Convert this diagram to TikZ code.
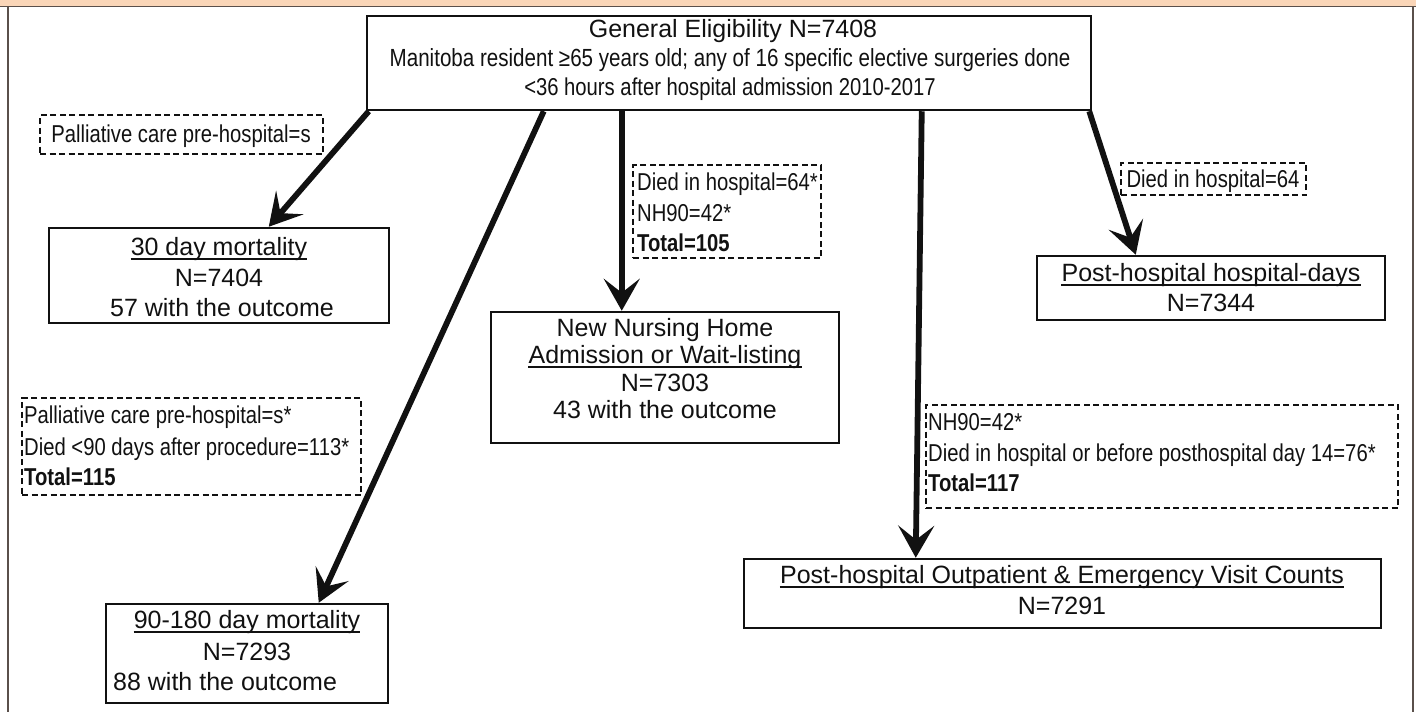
\documentclass[tikz,border=0pt]{standalone}
\usepackage{fontspec}
\setmainfont{Liberation Sans}
\newfontfamily\narrowfont[FakeStretch=0.83]{Liberation Sans}
\usetikzlibrary{arrows.meta,calc}
\definecolor{peach}{RGB}{250,214,184}
\definecolor{framecol}{RGB}{90,80,75}
\definecolor{ink}{RGB}{17,17,17}
\tikzset{
  box/.style={draw=ink, line width=2.5pt, rectangle, inner sep=0pt},
  dbox/.style={draw=ink, line width=1.8pt, dash pattern=on 6pt off 3.5pt, rectangle, inner sep=0pt},
  bt/.style={text=ink, font=\fontsize{25}{29}\selectfont, inner sep=0pt, anchor=base},
  gt/.style={text=ink, font=\narrowfont\fontsize{24.4}{28}\selectfont, inner sep=0pt, anchor=base},
  dt/.style={text=ink, font=\narrowfont\fontsize{24.4}{28}\selectfont, inner sep=0pt, anchor=base west},
  flow/.style={draw=ink, line width=5.8pt, -{Stealth[length=32pt,width=36pt,inset=14pt]}},
  uline/.style={draw=ink, line width=1.4pt},
}
\begin{document}
\begin{tikzpicture}[x=1pt,y=-1pt]
\useasboundingbox (0,0) rectangle (1416,712);
% frame
\fill[peach] (0,0) rectangle (1416,6.5);
\draw[framecol, line width=1.5pt] (0,6.5) -- (1416,6.5);
\draw[framecol, line width=1.5pt] (8,6.5) -- (8,712);
\draw[framecol, line width=1.5pt] (1413,6.5) -- (1413,712);

% main boxes
\node[box, minimum width=724pt, minimum height=94pt] (gen) at (729,63) {};
\node[box, minimum width=340pt, minimum height=95pt] (m30) at (219,275.5) {};
\node[box, minimum width=282pt, minimum height=99pt] (m90) at (247,653.5) {};
\node[box, minimum width=348pt, minimum height=131pt] (nn) at (665,377.5) {};
\node[box, minimum width=348pt, minimum height=64pt] (ph) at (1211,288) {};
\node[box, minimum width=637pt, minimum height=69pt] (op) at (1062.5,593.5) {};

% dashed boxes
\node[dbox, minimum width=283pt, minimum height=39pt] (d1) at (181.5,134.5) {};
\node[dbox, minimum width=188pt, minimum height=93pt] (d2) at (727,211.5) {};
\node[dbox, minimum width=339pt, minimum height=97pt] (d3) at (191.5,446.5) {};
\node[dbox, minimum width=185pt, minimum height=32pt] (d4) at (1213.5,179) {};
\node[dbox, minimum width=472pt, minimum height=103pt] (d5) at (1162,456.5) {};

% texts of main boxes
\node[bt] (gen1) at (733,37) {General Eligibility N=7408};
\node[gt, font=\narrowfont\fontsize{24.8}{28}\selectfont] (gen2) at (730,66) {Manitoba resident ≥65 years old; any of 16 specific elective surgeries done};
\node[gt] (gen3) at (730,95) {<36 hours after hospital admission 2010-2017};

\node[bt] (m30a) at (219,255) {30 day mortality};
\node[bt] (m30b) at (219,286) {N=7404};
\node[bt] (m30c) at (222,316) {57 with the outcome};

\node[bt] (m90a) at (247,628) {90-180 day mortality};
\node[bt] (m90b) at (247,660) {N=7293};
\node[bt, anchor=base west] (m90c) at (113,690) {88 with the outcome};

\node[bt] (nna) at (665,336) {New Nursing Home};
\node[bt] (nnb) at (665,363) {Admission or Wait-listing};
\node[bt] (nnc) at (665,391) {N=7303};
\node[bt] (nnd) at (665,418) {43 with the outcome};

\node[bt] (pha) at (1211,281) {Post-hospital hospital-days};
\node[bt] (phb) at (1211,311) {N=7344};

\node[bt] (opa) at (1062,583) {Post-hospital Outpatient \& Emergency Visit Counts};
\node[bt] (opb) at (1062,614) {N=7291};

% underlines
\foreach \n in {m30a,m90a,nnb,pha,opa}
  \draw[uline] ([yshift=-4pt]\n.base west) -- ([yshift=-4pt]\n.base east);

% texts of dashed boxes
\node[dt, anchor=base] (d1a) at (181,142.5) {Palliative care pre-hospital=s};

\node[dt] (d2a) at (637,190.5) {Died in hospital=64*};
\node[dt] (d2b) at (637,221.5) {NH90=42*};
\node[dt] (d2c) at (637,251.5) {\bfseries Total=105};

\node[dt] (d3a) at (24,423.5) {Palliative care pre-hospital=s*};
\node[dt] (d3b) at (24,455.5) {Died <90 days after procedure=113*};
\node[dt] (d3c) at (24,485.5) {\bfseries Total=115};

\node[dt, anchor=base] (d4a) at (1213,187.5) {Died in hospital=64};

\node[dt] (d5a) at (928,430.5) {NH90=42*};
\node[dt] (d5b) at (928,461.5) {Died in hospital or before posthospital day 14=76*};
\node[dt] (d5c) at (928,491.5) {\bfseries Total=117};

% connectors
\draw[flow] ([xshift=3pt]gen.south west) -- ([xshift=221pt]m30.north west);
\draw[flow] ([xshift=178pt]gen.south west) -- ([xshift=214pt]m90.north west);
\draw[flow] ([xshift=256pt]gen.south west) -- ([xshift=132pt]nn.north west);
\draw[flow] ([xshift=556pt]gen.south west) -- ([xshift=173pt]op.north west);
\draw[flow] ([xshift=-3pt]gen.south east) -- ([xshift=100pt]ph.north west);
\end{tikzpicture}
\end{document}
